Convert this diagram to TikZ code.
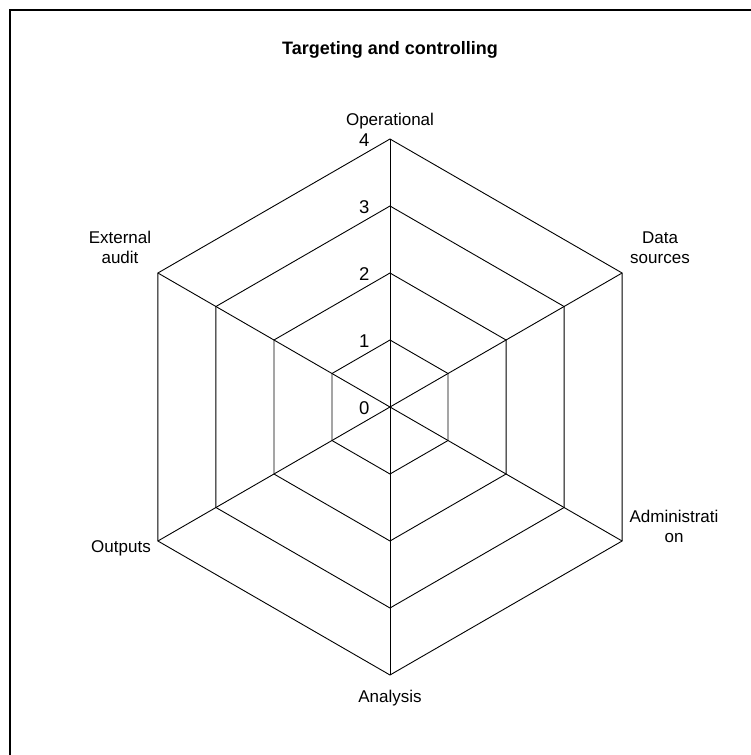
\documentclass[tikz,border=0pt]{standalone}
\usepackage{fontspec}
\setmainfont{Liberation Sans}
\begin{document}
\begin{tikzpicture}[x=1pt,y=-1pt,
  grid/.style={draw=black,line width=0.9pt},
  frame/.style={draw=black,line width=1.7pt},
  axislabel/.style={font=\fontsize{17}{20}\selectfont,align=center,inner sep=0pt,anchor=base},
  ticklabel/.style={font=\fontsize{18.5}{22}\selectfont,inner sep=0pt,anchor=base east},
  titlelabel/.style={font=\bfseries\fontsize{18}{22}\selectfont,inner sep=0pt,anchor=base}]
\useasboundingbox (0,0) rectangle (751,755);
% outer frame (only top and left edges fall inside the page)
\draw[frame] (751,10) -- (10,10) -- (10,755);
% title
\node[titlelabel] (title) at (390,54) {Targeting and controlling};
% radar grid
\coordinate (c) at (390,407);
\begin{scope}[shift={(390,407)}]
  \foreach \k in {1,...,4} {
    \pgfmathsetmacro{\r}{67*\k}
    \draw[grid] (270:\r) -- (330:\r) -- (30:\r) -- (90:\r) -- (150:\r) -- (210:\r) -- cycle;
  }
  \coordinate (vop) at (270:268);
  \coordinate (vds) at (330:268);
  \coordinate (vad) at (30:268);
  \coordinate (van) at (90:268);
  \coordinate (vou) at (150:268);
  \coordinate (vea) at (210:268);
\end{scope}
\foreach \v in {vop,vds,vad,van,vou,vea} \draw[grid] (c) -- (\v);
% scale values
\foreach \k in {0,...,4} {
  \node[ticklabel] (t\k) at (369.5,{407-67*\k+7}) {\k};
}
% axis labels
\node[axislabel] (lop) at (390,125) {Operational};
\node[axislabel] (lds) at (660,263) {Data\\sources};
\node[axislabel] (lad) at (674,542) {Administrati\\on};
\node[axislabel] (lan) at (390,702) {Analysis};
\node[axislabel] (lou) at (121,552) {Outputs};
\node[axislabel] (lea) at (120,263) {External\\audit};
\end{tikzpicture}
\end{document}
